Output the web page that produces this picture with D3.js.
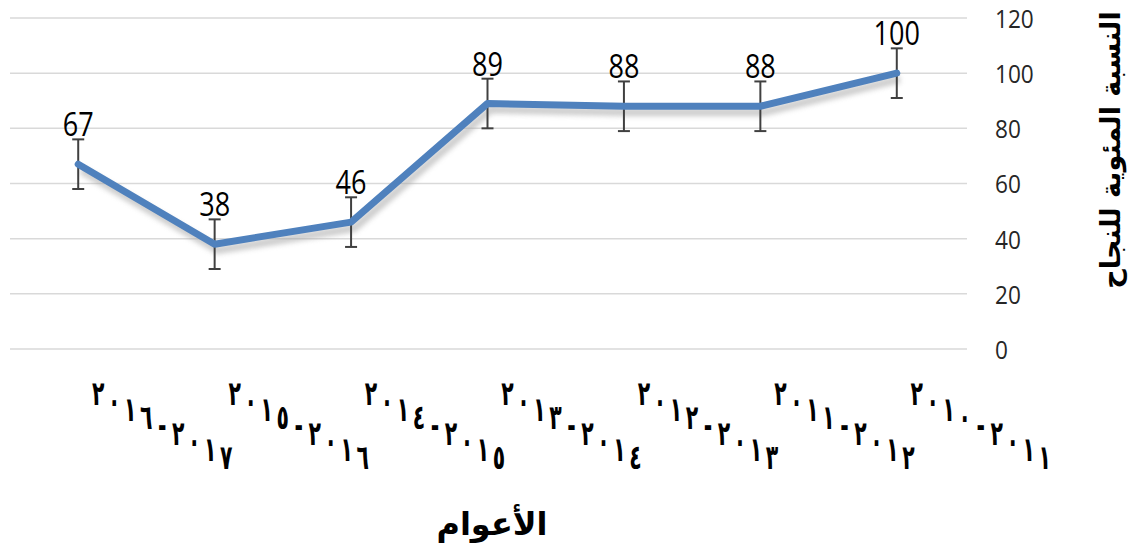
<!DOCTYPE html>
<html><head><meta charset="utf-8">
<script src="https://cdn.jsdelivr.net/npm/d3@7"></script>
<style>body{margin:0;background:#fff}svg{display:block}</style>
</head><body>
<svg id="c" width="1137" height="558"></svg>
<script>
const categories = ["٢٠١٦-٢٠١٧","٢٠١٥-٢٠١٦","٢٠١٤-٢٠١٥","٢٠١٣-٢٠١٤","٢٠١٢-٢٠١٣","٢٠١١-٢٠١٢","٢٠١٠-٢٠١١"];
const values = [67, 38, 46, 89, 88, 88, 100];
const errors = [9, 9, 9, 9, 9, 9, 9];
const yTicks = [0, 20, 40, 60, 80, 100, 120];
const yTitle = "النسبة المئوية للنجاح";
const xTitle = "الأعوام";

const svg = d3.select("#c");
const x = d3.scalePoint().domain(categories).range([10, 965]).padding(0.5);
const y = d3.scaleLinear().domain([0, 120]).range([349, 18]);

const defs = svg.append("defs");
const f = defs.append("filter").attr("id","sh").attr("x","-10%").attr("y","-20%").attr("width","130%").attr("height","160%");
f.append("feGaussianBlur").attr("stdDeviation", 2.5);

// grid
svg.append("g").selectAll("line").data(yTicks).join("line")
  .attr("x1", 10).attr("x2", 967)
  .attr("y1", d => y(d)).attr("y2", d => y(d))
  .attr("stroke", "#d9d9d9").attr("stroke-width", 1.5);

// y axis labels (right)
const yAxis = d3.axisRight(y).tickValues(yTicks).tickSize(0).tickPadding(0);
const ga = svg.append("g").attr("transform", "translate(995,0)").call(yAxis);
ga.select(".domain").remove();
ga.selectAll("text").attr("font-family", "'Open Sans', sans-serif")
  .attr("font-size", 26).attr("fill", "#262626").attr("dy", "0.36em")
  .attr("transform", "scale(0.87,1)");

const line = d3.line().x((d,i) => x(categories[i])).y(d => y(d));

// shadow
svg.append("path").datum(values).attr("d", line)
  .attr("transform", "translate(3,6)")
  .attr("fill","none").attr("stroke","#a6a6a6").attr("stroke-width",8)
  .attr("opacity",0.55).attr("filter","url(#sh)");

// error bars
const eb = svg.append("g").attr("stroke", "#404040").attr("stroke-width", 2);
values.forEach((v,i) => {
  const cx = x(categories[i]);
  const t = y(v + errors[i]), b = y(v - errors[i]);
  eb.append("line").attr("x1",cx).attr("x2",cx).attr("y1",t).attr("y2",b);
  eb.append("line").attr("x1",cx-6).attr("x2",cx+6).attr("y1",t).attr("y2",t);
  eb.append("line").attr("x1",cx-6).attr("x2",cx+6).attr("y1",b).attr("y2",b);
});

// line
svg.append("path").datum(values).attr("d", line)
  .attr("fill","none").attr("stroke","#4f81bd").attr("stroke-width",7)
  .attr("stroke-linejoin","round").attr("stroke-linecap","round");

// data labels
svg.append("g").selectAll("text").data(values).join("text")
  .attr("transform", (d,i) => `translate(${x(categories[i])},${y(d + errors[i]) - 3}) scale(0.82,1)`)
  .attr("text-anchor","middle")
  .attr("font-family","'Open Sans', sans-serif")
  .attr("font-size", 33).attr("fill","#000")
  .text(d => d);

// category labels: upright narrow glyphs stepped along a diagonal
const cg = svg.append("g")
  .attr("font-family","'DejaVu Sans', sans-serif")
  .attr("font-weight","bold").attr("font-size", 34).attr("fill","#000")
  .attr("text-anchor","middle");
categories.forEach(c => {
  const cx = x(c);
  Array.from(c).forEach((ch, j) => {
    cg.append("text")
      .attr("transform", `translate(${cx + 20 + j * 16},${405 + j * 8}) scale(0.6,1)`)
      .text(ch);
  });
});

// y title
svg.append("text")
  .attr("transform","translate(1120,150) rotate(-90)")
  .attr("text-anchor","middle")
  .attr("font-family","'DejaVu Sans', sans-serif")
  .attr("font-weight","bold").attr("font-size", 27).attr("fill","#000")
  .text(yTitle);

// x title
svg.append("text")
  .attr("x", 492).attr("y", 535)
  .attr("text-anchor","middle")
  .attr("font-family","'DejaVu Sans', sans-serif")
  .attr("font-weight","bold").attr("font-size", 32).attr("fill","#000")
  .text(xTitle);
</script>
</body></html>
